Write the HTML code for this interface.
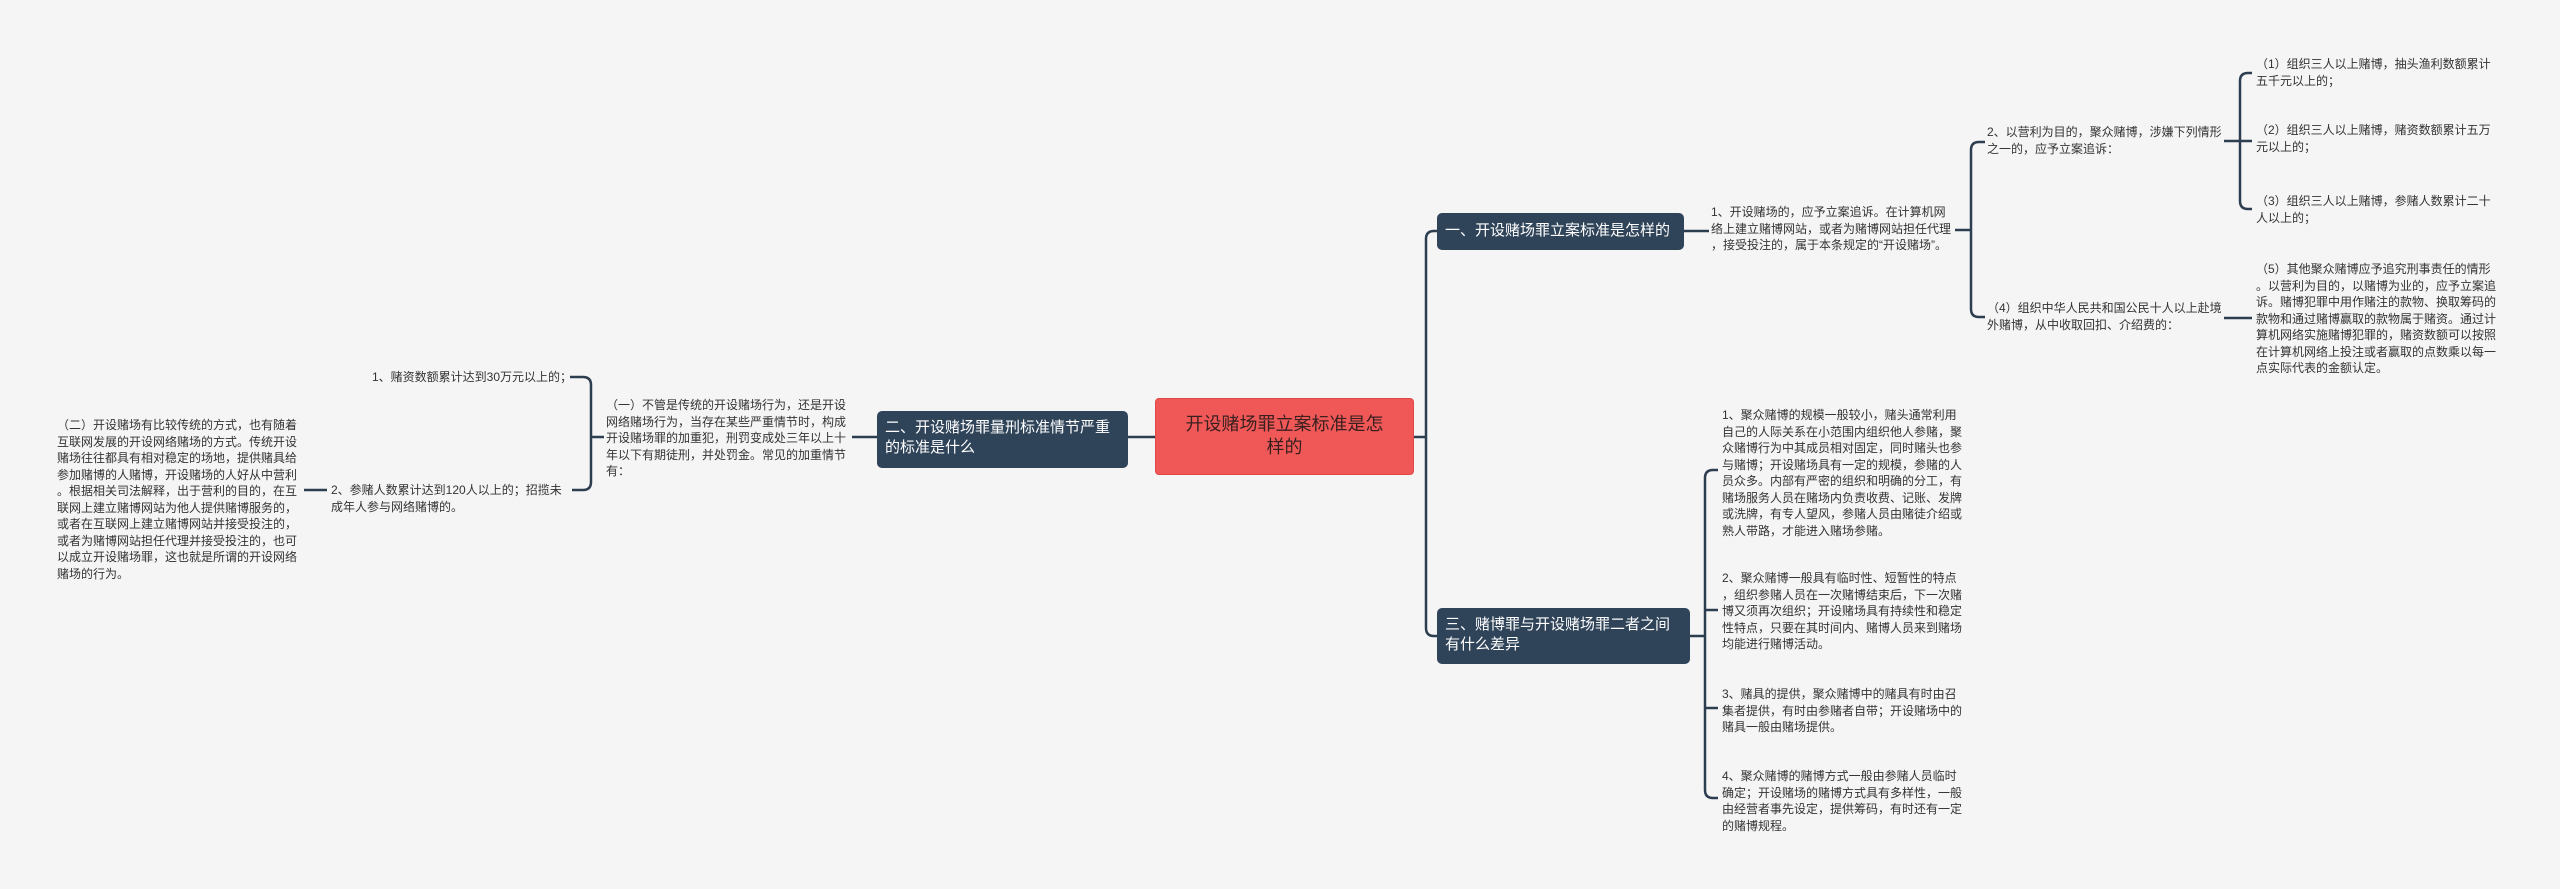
<!DOCTYPE html>
<html><head><meta charset="utf-8">
<style>
html,body{margin:0;padding:0;}
body{width:2560px;height:889px;background:#f5f5f5;position:relative;overflow:hidden;font-family:"Liberation Sans","Noto Sans CJK SC",sans-serif;}
.t{position:absolute;font-size:12px;line-height:16.5px;color:#333;white-space:nowrap;}
.b{position:absolute;background:#2f4359;color:#fff;font-size:15px;line-height:20px;border-radius:5px;box-sizing:border-box;white-space:nowrap;}
.c{position:absolute;background:#f05858;border:1px solid #e04848;color:#3a1f1f;font-size:18px;line-height:23px;border-radius:4px;box-sizing:border-box;text-align:center;}
svg{position:absolute;left:0;top:0;}
</style></head><body>
<svg width="2560" height="889" fill="none" stroke="#2d3e50" stroke-width="2.5">
<path d="M1414,437 H1426"/>
<path d="M1437,231 H1434 Q1426,231 1426,239 V628 Q1426,636 1434,636 H1437"/>
<path d="M1155,437 H1128"/>
<path d="M877,437 H852"/>
<path d="M604,437 H591"/>
<path d="M570,377 H583 Q591,377 591,385 V482 Q591,490 583,490 H572"/>
<path d="M327,490 H304"/>
<path d="M1684,231 H1709"/>
<path d="M1955,230 H1971"/>
<path d="M1985,142 H1979 Q1971,142 1971,150 V309 Q1971,317 1979,317 H1985"/>
<path d="M2224,141 H2252"/>
<path d="M2252,73 H2248 Q2240,73 2240,81 V201 Q2240,209 2248,209 H2252"/>
<path d="M2224,318 H2252"/>
<path d="M1690,636 H1705"/>
<path d="M1718,470 H1713 Q1705,470 1705,478 V790 Q1705,798 1713,798 H1718"/>
<path d="M1705,610 H1718"/>
<path d="M1705,708 H1718"/>
</svg>

<div class="c" style="left:1155px;top:398px;width:259px;height:77px;padding-top:14px;">开设赌场罪立案标准是怎<br>样的</div>

<div class="b" style="left:1437px;top:213px;width:247px;height:37px;padding:8px 0 0 8px;">一、开设赌场罪立案标准是怎样的</div>
<div class="b" style="left:877px;top:411px;width:251px;height:57px;padding:7px 0 0 8px;">二、开设赌场罪量刑标准情节严重<br>的标准是什么</div>
<div class="b" style="left:1437px;top:608px;width:253px;height:56px;padding:7px 0 0 8px;">三、赌博罪与开设赌场罪二者之间<br>有什么差异</div>

<div class="t" style="left:1711px;top:204px;">1、开设赌场的，应予立案追诉。在计算机网<br>络上建立赌博网站，或者为赌博网站担任代理<br>，接受投注的，属于本条规定的“开设赌场”。</div>
<div class="t" style="left:1987px;top:124px;">2、以营利为目的，聚众赌博，涉嫌下列情形<br>之一的，应予立案追诉：</div>
<div class="t" style="left:1987px;top:300px;">（4）组织中华人民共和国公民十人以上赴境<br>外赌博，从中收取回扣、介绍费的：</div>
<div class="t" style="left:2256px;top:56px;">（1）组织三人以上赌博，抽头渔利数额累计<br>五千元以上的；</div>
<div class="t" style="left:2256px;top:122px;">（2）组织三人以上赌博，赌资数额累计五万<br>元以上的；</div>
<div class="t" style="left:2256px;top:193px;">（3）组织三人以上赌博，参赌人数累计二十<br>人以上的；</div>
<div class="t" style="left:2256px;top:261px;">（5）其他聚众赌博应予追究刑事责任的情形<br>。以营利为目的，以赌博为业的，应予立案追<br>诉。赌博犯罪中用作赌注的款物、换取筹码的<br>款物和通过赌博赢取的款物属于赌资。通过计<br>算机网络实施赌博犯罪的，赌资数额可以按照<br>在计算机网络上投注或者赢取的点数乘以每一<br>点实际代表的金额认定。</div>

<div class="t" style="left:1722px;top:407px;">1、聚众赌博的规模一般较小，赌头通常利用<br>自己的人际关系在小范围内组织他人参赌，聚<br>众赌博行为中其成员相对固定，同时赌头也参<br>与赌博；开设赌场具有一定的规模，参赌的人<br>员众多。内部有严密的组织和明确的分工，有<br>赌场服务人员在赌场内负责收费、记账、发牌<br>或洗牌，有专人望风，参赌人员由赌徒介绍或<br>熟人带路，才能进入赌场参赌。</div>
<div class="t" style="left:1722px;top:570px;">2、聚众赌博一般具有临时性、短暂性的特点<br>，组织参赌人员在一次赌博结束后，下一次赌<br>博又须再次组织；开设赌场具有持续性和稳定<br>性特点，只要在其时间内、赌博人员来到赌场<br>均能进行赌博活动。</div>
<div class="t" style="left:1722px;top:686px;">3、赌具的提供，聚众赌博中的赌具有时由召<br>集者提供，有时由参赌者自带；开设赌场中的<br>赌具一般由赌场提供。</div>
<div class="t" style="left:1722px;top:768px;">4、聚众赌博的赌博方式一般由参赌人员临时<br>确定；开设赌场的赌博方式具有多样性，一般<br>由经营者事先设定，提供筹码，有时还有一定<br>的赌博规程。</div>

<div class="t" style="left:606px;top:397px;">（一）不管是传统的开设赌场行为，还是开设<br>网络赌场行为，当存在某些严重情节时，构成<br>开设赌场罪的加重犯，刑罚变成处三年以上十<br>年以下有期徒刑，并处罚金。常见的加重情节<br>有：</div>
<div class="t" style="left:372px;top:369px;">1、赌资数额累计达到30万元以上的；</div>
<div class="t" style="left:331px;top:482px;">2、参赌人数累计达到120人以上的；招揽未<br>成年人参与网络赌博的。</div>
<div class="t" style="left:57px;top:417px;">（二）开设赌场有比较传统的方式，也有随着<br>互联网发展的开设网络赌场的方式。传统开设<br>赌场往往都具有相对稳定的场地，提供赌具给<br>参加赌博的人赌博，开设赌场的人好从中营利<br>。根据相关司法解释，出于营利的目的，在互<br>联网上建立赌博网站为他人提供赌博服务的，<br>或者在互联网上建立赌博网站并接受投注的，<br>或者为赌博网站担任代理并接受投注的，也可<br>以成立开设赌场罪，这也就是所谓的开设网络<br>赌场的行为。</div>
</body></html>
